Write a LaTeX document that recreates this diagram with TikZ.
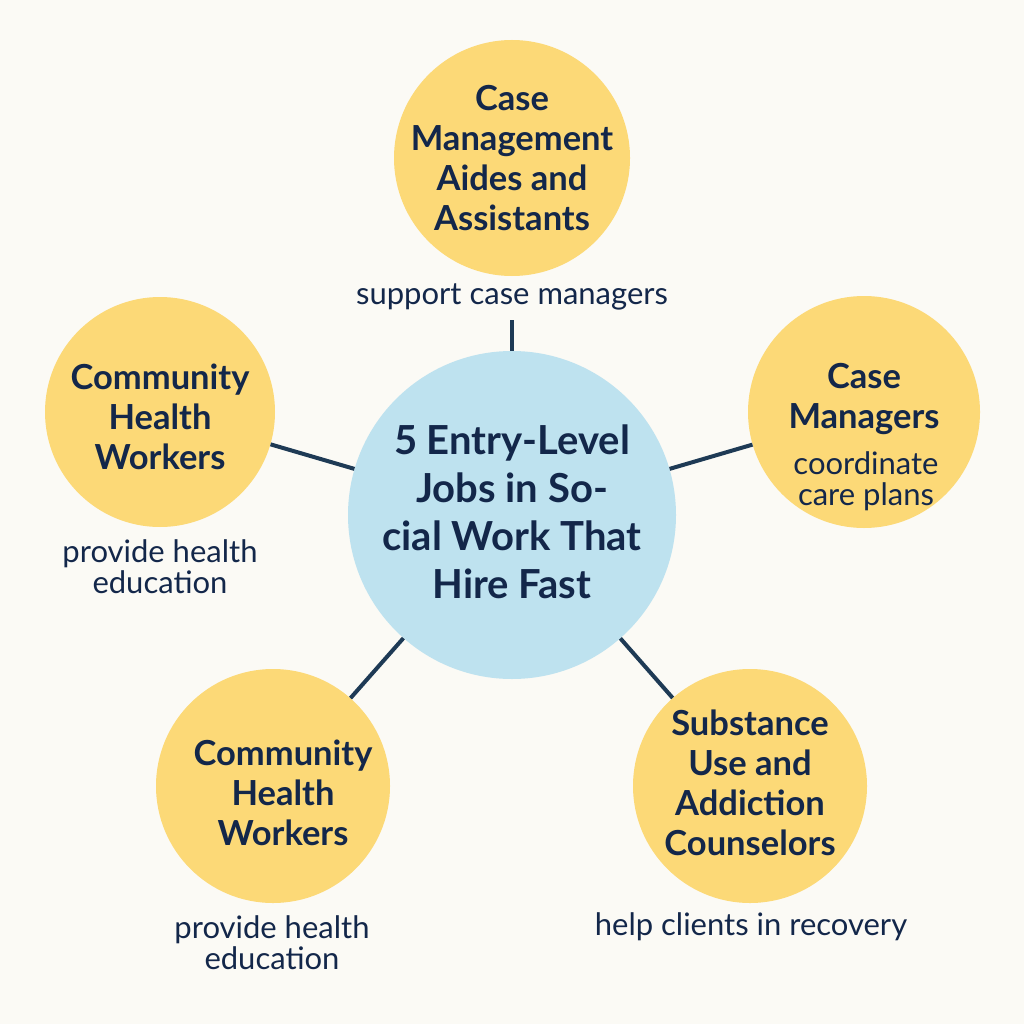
\documentclass[tikz,border=0pt]{standalone}
\usepackage{fontspec}
\setmainfont{Lato}
\definecolor{bgc}{HTML}{FBFAF5}
\definecolor{yel}{HTML}{FCD977}
\definecolor{blu}{HTML}{BEE2EF}
\definecolor{navy}{HTML}{13274A}
\definecolor{linec}{HTML}{1E3A55}
\tikzset{
  yc/.style={circle, fill=yel, draw=none, inner sep=0pt, minimum size=#1},
  title/.style={align=center, text=navy, font=\bfseries\fontsize{34.5}{40}\selectfont, inner sep=0pt},
  ctitle/.style={align=center, text=navy, font=\bfseries\fontsize{40}{48}\selectfont, inner sep=0pt},
  desc/.style={align=center, text=navy, font=\fontsize{31}{31}\selectfont, inner sep=0pt},
  conn/.style={draw=linec, line width=4pt}
}
\begin{document}
\begin{tikzpicture}[x=1pt,y=-1pt]
\fill[bgc] (0,0) rectangle (1024,1024);
\useasboundingbox (0,0) rectangle (1024,1024);
% circles
\node[circle, fill=blu, inner sep=0pt, minimum size=328pt] (center) at (512,515) {};
\node[yc=236pt] (top) at (512,158) {};
\node[yc=232pt] (right) at (864,412) {};
\node[yc=230pt] (left) at (160,412) {};
\node[yc=234pt] (bl) at (273,786) {};
\node[yc=234pt] (br) at (750,786) {};
% connectors
\coordinate (toptip) at (512,320);
\draw[conn] (center) -- (toptip);
\draw[conn] (center) -- (left);
\draw[conn] (center) -- (right);
\draw[conn] (center) -- (bl);
\draw[conn] (center) -- (br);
% texts
\node[ctitle] (ct) at (512,512) {5 Entry-Level\\Jobs in So-\\cial Work That\\Hire Fast};
\node[title] (tt) at (512,158) {Case\\Management\\Aides and\\Assistants};
\node[desc] (td) at (512,297) {support case managers};
\node[title] (rt) at (864,399) {Case\\Managers};
\node[desc] (rd) at (866,481) {coordinate\\care plans};
\node[title] (lt) at (160,417) {Community\\Health\\Workers};
\node[desc] (ld) at (160,567) {provide health\\education};
\node[title] (blt) at (283,793) {Community\\Health\\Workers};
\node[desc] (bld) at (272,943) {provide health\\education};
\node[title] (brt) at (750,783) {Substance\\Use and\\Addiction\\Counselors};
\node[desc] (brd) at (751,927) {help clients in recovery};
\end{tikzpicture}
\end{document}
